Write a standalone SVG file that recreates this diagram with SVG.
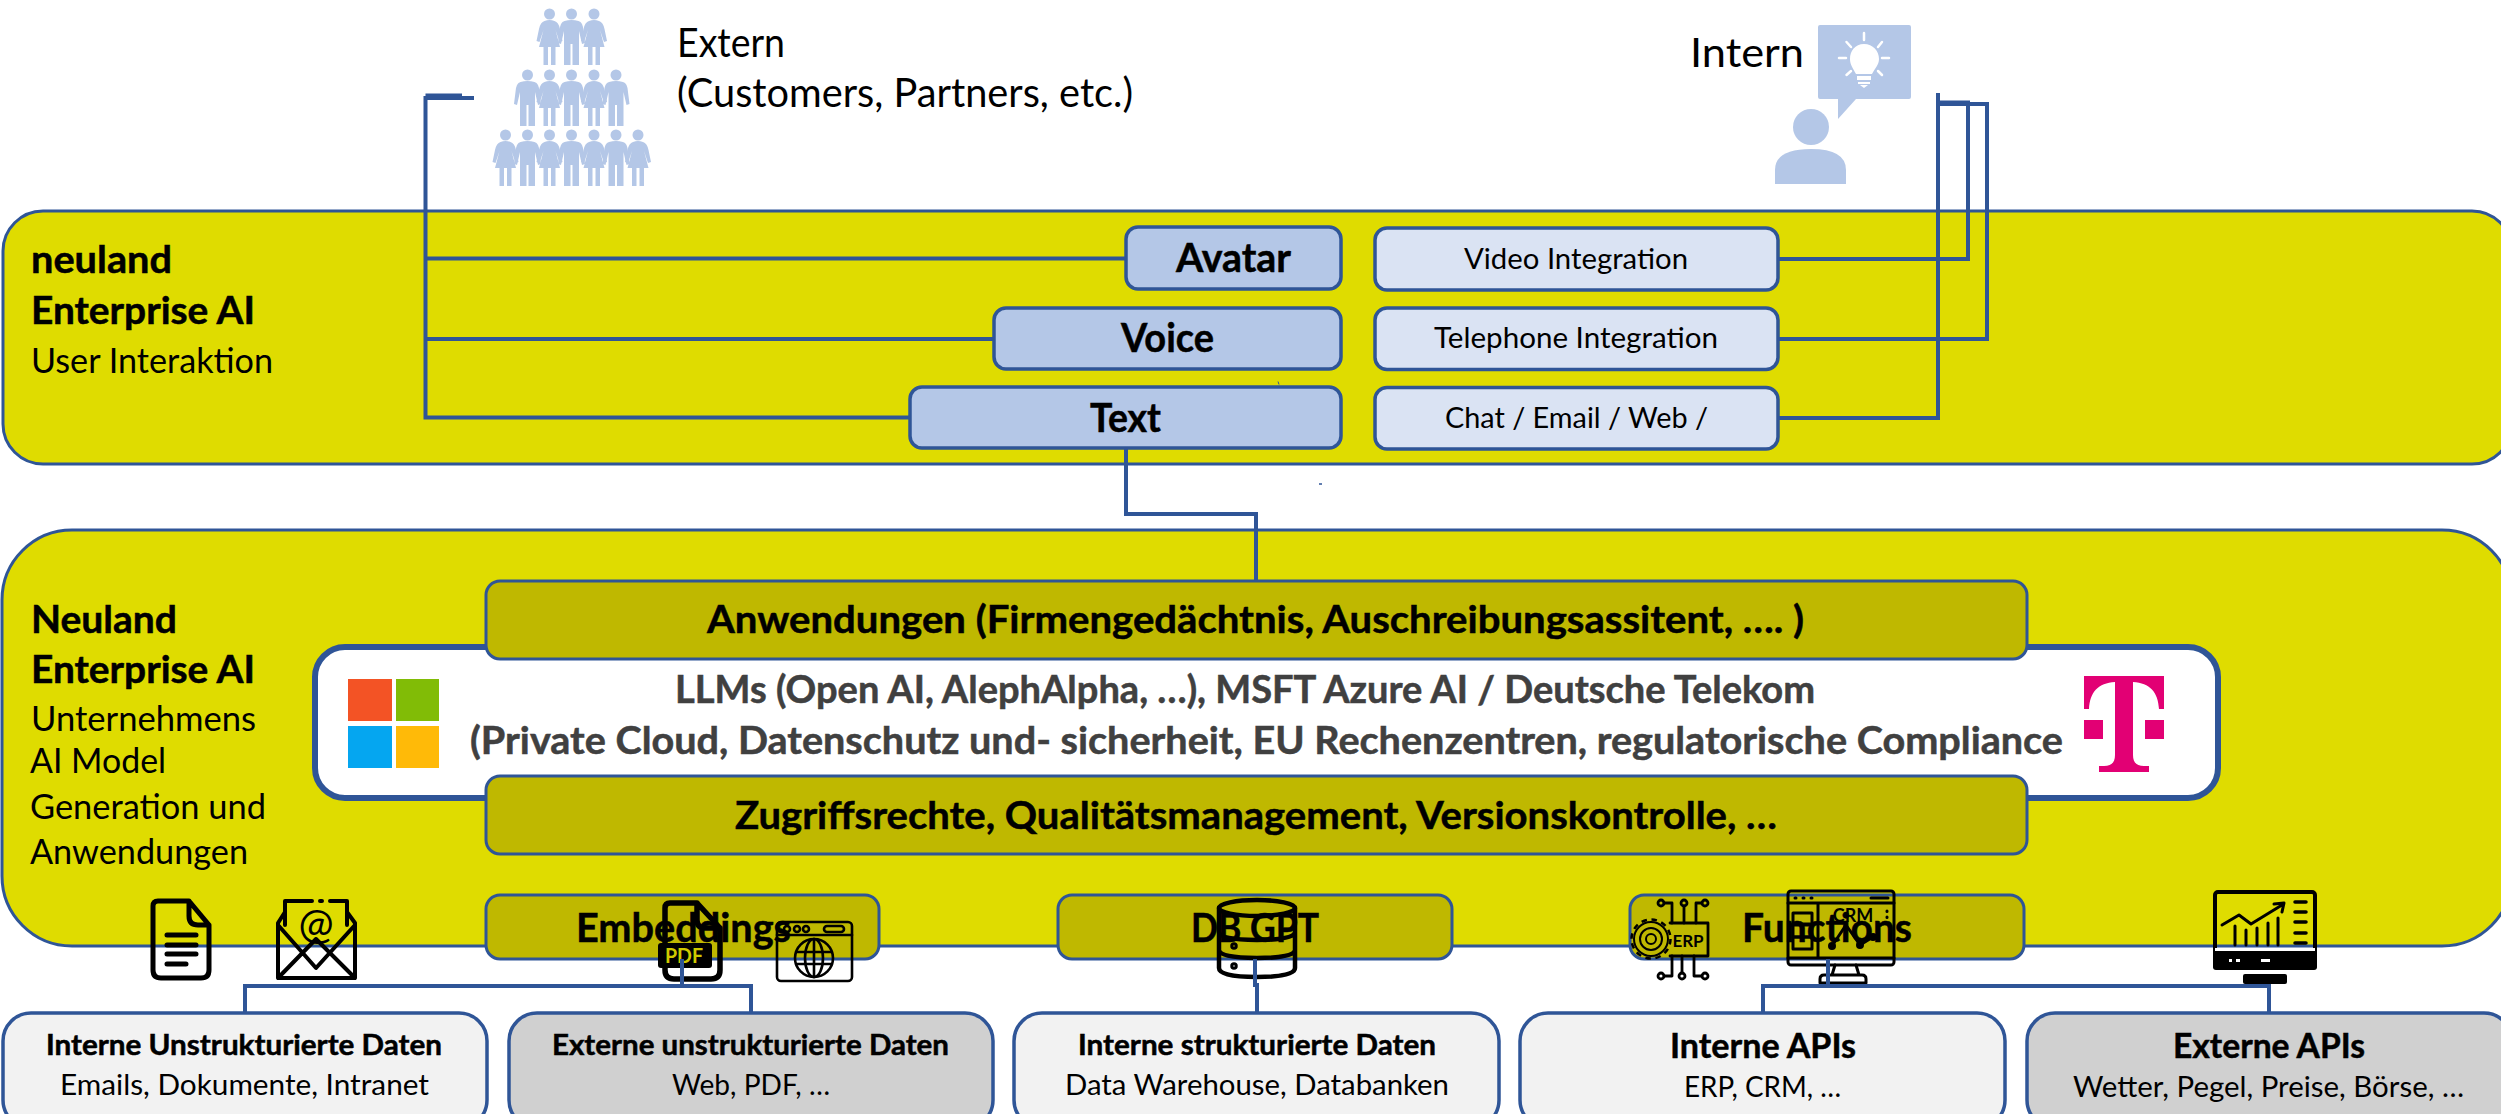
<svg xmlns="http://www.w3.org/2000/svg" xmlns:xlink="http://www.w3.org/1999/xlink" width="2501" height="1114" viewBox="0 0 2501 1114">
<style>
text{font-family:"Lato","Open Sans","Liberation Sans",sans-serif;fill:#000}
.b{font-weight:700;stroke:#000;stroke-width:.5px}
.s36{font-size:40px}.s33{font-size:38px}.s32{font-size:34px}.s27{font-size:29px}.s28{font-size:28px}.s40{font-size:41px}.s30{font-size:35px}
.b.grey{fill:#404040;stroke:#404040}
.band{fill:#DFDC00;stroke:#2F5597;stroke-width:3}
.inner{fill:#BFB800;stroke:#2F5597;stroke-width:3}
.btnA{fill:#B4C7E7;stroke:#2F5597;stroke-width:3.5}
.btnB{fill:#DAE3F3;stroke:#2F5597;stroke-width:3.5}
.dataL{fill:#F2F2F2;stroke:#2F5597;stroke-width:3.5}
.dataD{fill:#D0D0D0;stroke:#2F5597;stroke-width:3.5}
.ppl{fill:#B4C7E7}
.ic{fill:none;stroke:#000;stroke-width:4.5;stroke-linejoin:round;stroke-linecap:round}
.th{stroke-width:2.6}
.ray{fill:none;stroke:#fff;stroke-width:2.5;stroke-linecap:round}
.con{fill:none;stroke:#2F5597;stroke-width:4}
</style>
<defs>
<path id="man" class="ppl" d="M-7 7Q0 5 7 7Q11.500 8 12 17L13.500 29L10.500 30L7.500 17V51H1V30H-1V51H-7.500V17L-10.500 30L-13.500 29L-12 17Q-11.500 8 -7 7Z"/>
<path id="woman" class="ppl" d="M-5 7Q0 5 5 7Q9 8 10.500 15L13 27L10 28L6 16L10.500 33H6V51H1.500V33H-1.500V51H-6V33H-10.500L-6 16L-10 28L-13 27L-10.500 15Q-9 8 -5 7Z"/>
<g id="f"><circle class="ppl" cx="0" cy="0" r="5.500"/><use xlink:href="#woman" href="#woman"/></g>
<g id="m"><circle class="ppl" cx="0" cy="0" r="5.500"/><use xlink:href="#man" href="#man"/></g>
</defs>

<rect width="2501" height="1114" fill="#fff"/>

<g id="band-user-interaction">
<rect class="band" x="3" y="211" width="2509" height="253" rx="40"/>
<text class="b s33" x="31" y="273" textLength="141" lengthAdjust="spacingAndGlyphs">neuland</text>
<text class="b s33" x="31" y="324" textLength="224" lengthAdjust="spacingAndGlyphs">Enterprise AI</text>
<text class="s32" x="31" y="373" textLength="242" lengthAdjust="spacingAndGlyphs">User Interaktion</text>
</g>

<g id="band-enterprise-ai">
<rect class="band" x="2" y="530" width="2510" height="416" rx="70"/>
<text class="b s33" x="31" y="633" textLength="146" lengthAdjust="spacingAndGlyphs">Neuland</text>
<text class="b s33" x="31" y="683" textLength="224" lengthAdjust="spacingAndGlyphs">Enterprise AI</text>
<text class="s32" x="31" y="731" textLength="225" lengthAdjust="spacingAndGlyphs">Unternehmens</text>
<text class="s32" x="30" y="773" textLength="136" lengthAdjust="spacingAndGlyphs">AI Model</text>
<text class="s32" x="30" y="819" textLength="236" lengthAdjust="spacingAndGlyphs">Generation und</text>
<text class="s32" x="30" y="864" textLength="218" lengthAdjust="spacingAndGlyphs">Anwendungen</text>
</g>

<g id="extern-people">
<use xlink:href="#f" href="#f" x="549.500" y="14"/><use xlink:href="#m" href="#m" x="571.500" y="14"/><use xlink:href="#f" href="#f" x="594" y="14"/>
<use xlink:href="#m" href="#m" x="527.500" y="75"/><use xlink:href="#f" href="#f" x="549.500" y="75"/><use xlink:href="#m" href="#m" x="571.500" y="75"/><use xlink:href="#f" href="#f" x="594" y="75"/><use xlink:href="#m" href="#m" x="616" y="75"/>
<use xlink:href="#f" href="#f" x="505.500" y="135"/><use xlink:href="#m" href="#m" x="527.500" y="135"/><use xlink:href="#f" href="#f" x="549.500" y="135"/><use xlink:href="#m" href="#m" x="571.500" y="135"/><use xlink:href="#f" href="#f" x="594" y="135"/><use xlink:href="#m" href="#m" x="616" y="135"/><use xlink:href="#f" href="#f" x="638" y="135"/>
<text class="s36" x="677" y="57" textLength="108" lengthAdjust="spacingAndGlyphs">Extern</text>
<text class="s36" x="677" y="107" textLength="456" lengthAdjust="spacingAndGlyphs">(Customers, Partners, etc.)</text>
</g>

<g id="intern-person">
<text class="s36" x="1690" y="67" textLength="114" lengthAdjust="spacingAndGlyphs">Intern</text>
<path class="ppl" d="M1820 25H1909Q1911 25 1911 27V97Q1911 99 1909 99H1856L1838 119V99H1820Q1818 99 1818 97V27Q1818 25 1820 25Z"/>
<path fill="#fff" d="M1864 44C1873 44 1879 51 1879 59C1879 65 1875 68 1872 74H1856C1853 68 1850 65 1850 59C1850 51 1855 44 1864 44Z"/>
<path fill="#fff" d="M1857 76H1871V80H1857ZM1858 82H1870V84H1858ZM1860 85H1868L1864 88Z"/>
<path class="ray" d="M1864 33V40M1846.500 42L1851 47M1882 42L1878 47M1839 58H1846M1882 58H1889M1851 71L1846.500 75M1878 71L1882 75"/>
<ellipse class="ppl" cx="1811" cy="127" rx="18" ry="18"/>
<path class="ppl" d="M1775 184V170Q1775 149 1811 149Q1846 149 1846 170V184Z"/>
</g>

<g id="avatar"><rect class="btnA" x="1126" y="227" width="215" height="62" rx="12"/><text class="b s40" x="1176" y="272" textLength="115" lengthAdjust="spacingAndGlyphs">Avatar</text></g>
<g id="voice"><rect class="btnA" x="994" y="308" width="347" height="61" rx="12"/><text class="b s40" x="1121" y="352" textLength="93" lengthAdjust="spacingAndGlyphs">Voice</text></g>
<g id="text"><rect class="btnA" x="910" y="387" width="431" height="61" rx="12"/><text class="b s40" x="1090" y="432" textLength="71" lengthAdjust="spacingAndGlyphs">Text</text></g>
<g id="video-integration"><rect class="btnB" x="1375" y="228" width="403" height="62" rx="12"/><text class="s27" x="1464" y="269" textLength="224" lengthAdjust="spacingAndGlyphs">Video Integration</text></g>
<g id="telephone-integration"><rect class="btnB" x="1375" y="308" width="403" height="61.500" rx="12"/><text class="s27" x="1434" y="348" textLength="284" lengthAdjust="spacingAndGlyphs">Telephone Integration</text></g>
<g id="chat-email-web"><rect class="btnB" x="1375" y="387.500" width="403" height="61.500" rx="12"/><text class="s27" x="1445" y="428" textLength="263" lengthAdjust="spacingAndGlyphs">Chat / Email / Web /</text></g>

<g id="llms">
<rect x="315" y="647" width="1903" height="151" rx="30" fill="#fff" stroke="#2F5597" stroke-width="6"/>
<rect x="348" y="679" width="44" height="42" fill="#F35325"/><rect x="396" y="679" width="43" height="42" fill="#81BC06"/>
<rect x="348" y="726" width="44" height="42" fill="#05A6F0"/><rect x="396" y="726" width="43" height="42" fill="#FFBA08"/>
<path fill="#E20074" d="M2084 676H2164V709H2159C2158 692 2150 683 2133 682V755C2133 763 2137 766 2144 766H2149V772H2099V766H2104C2111 766 2115 763 2115 755V682C2098 683 2090 692 2089 709H2084Z"/>
<rect x="2084" y="720" width="19" height="19" fill="#E20074"/><rect x="2145" y="720" width="19" height="19" fill="#E20074"/>
<text class="b s33 grey" x="675" y="703" textLength="1140" lengthAdjust="spacingAndGlyphs">LLMs (Open AI, AlephAlpha, …), MSFT Azure AI / Deutsche Telekom</text>
<text class="b s33 grey" x="470" y="754" textLength="1593" lengthAdjust="spacingAndGlyphs">(Private Cloud, Datenschutz und- sicherheit, EU Rechenzentren, regulatorische Compliance</text>
</g>
<g id="anwendungen"><rect class="inner" x="486" y="581" width="1541" height="78" rx="14"/><text class="b s33" x="707" y="633" textLength="1097" lengthAdjust="spacingAndGlyphs">Anwendungen (Firmengedächtnis, Auschreibungsassitent, …. )</text></g>
<g id="zugriffsrechte"><rect class="inner" x="486" y="776" width="1541" height="78" rx="14"/><text class="b s33" x="735" y="829" textLength="1042" lengthAdjust="spacingAndGlyphs">Zugriffsrechte, Qualitätsmanagement, Versionskontrolle, …</text></g>
<g id="embeddings"><rect class="inner" x="486" y="895" width="393" height="64" rx="14"/><text class="b s40" x="576" y="942" textLength="215" lengthAdjust="spacingAndGlyphs">Embeddings</text></g>
<g id="db-gpt"><rect class="inner" x="1058" y="895" width="394" height="64" rx="14"/><text class="b s40" x="1191" y="942" textLength="128" lengthAdjust="spacingAndGlyphs">DB GPT</text></g>
<g id="functions"><rect class="inner" x="1630" y="895" width="394" height="64" rx="14"/><text class="b s40" x="1742" y="942" textLength="170" lengthAdjust="spacingAndGlyphs">Functions</text></g>

<g id="interne-unstrukturierte"><rect class="dataL" x="3" y="1013" width="484" height="115" rx="28"/>
<text class="b s28" x="46" y="1055" textLength="396" lengthAdjust="spacingAndGlyphs">Interne Unstrukturierte Daten</text>
<text class="s28" x="60" y="1095" textLength="369" lengthAdjust="spacingAndGlyphs">Emails, Dokumente, Intranet</text></g>
<g id="externe-unstrukturierte"><rect class="dataD" x="509" y="1013" width="484" height="115" rx="28"/>
<text class="b s28" x="552" y="1055" textLength="397" lengthAdjust="spacingAndGlyphs">Externe unstrukturierte Daten</text>
<text class="s28" x="672" y="1095" textLength="158" lengthAdjust="spacingAndGlyphs">Web, PDF, …</text></g>
<g id="interne-strukturierte"><rect class="dataL" x="1014" y="1013" width="485" height="115" rx="28"/>
<text class="b s28" x="1078" y="1055" textLength="358" lengthAdjust="spacingAndGlyphs">Interne strukturierte Daten</text>
<text class="s28" x="1065" y="1095" textLength="384" lengthAdjust="spacingAndGlyphs">Data Warehouse, Databanken</text></g>
<g id="interne-apis"><rect class="dataL" x="1520" y="1013" width="485" height="115" rx="28"/>
<text class="b s30" x="1670" y="1058" textLength="186" lengthAdjust="spacingAndGlyphs">Interne APIs</text>
<text class="s28" x="1684" y="1097" textLength="157" lengthAdjust="spacingAndGlyphs">ERP, CRM, …</text></g>
<g id="externe-apis"><rect class="dataD" x="2027" y="1013" width="485" height="115" rx="28"/>
<text class="b s30" x="2173" y="1058" textLength="192" lengthAdjust="spacingAndGlyphs">Externe APIs</text>
<text class="s28" x="2073" y="1097" textLength="391" lengthAdjust="spacingAndGlyphs">Wetter, Pegel, Preise, Börse, …</text></g>

<g id="icon-document">
<path class="ic" style="stroke-width:5" d="M158 901H189L209 925V970Q209 978 201 978H161Q153 978 153 970V906Q153 901 158 901ZM189 901V916Q189 925 198 925H209"/>
<path class="ic" style="stroke-width:5" d="M167 935H196M167 945H196M167 954H196M167 964H186"/>
</g>
<g id="icon-email">
<path class="ic" style="stroke-width:4" d="M285 925V901H312M320 901H322M330 901H347V925M285 912L278 923V978H355V923L347 912M278 925L316 968L355 925M278 978L316 939M355 978L316 939"/>
<text x="316" y="939" text-anchor="middle" style="font-size:42px">@</text>
</g>
<g id="icon-pdf">
<path class="ic" style="stroke-width:5.500" d="M670 903H697L720 928V970Q720 979 711 979H674Q665 979 665 970V908Q665 903 670 903ZM697 903V920Q697 928 705 928H720"/>
<rect x="658" y="943" width="54" height="25" rx="3" fill="#000"/>
<text x="684" y="963" text-anchor="middle" textLength="38" lengthAdjust="spacingAndGlyphs" style="font-size:20px;font-weight:700;fill:#CFC900">PDF</text>
</g>
<g id="icon-web" class="ic th">
<rect x="777" y="922" width="75" height="59" rx="4"/>
<path d="M777 935H852"/>
<circle cx="787" cy="929" r="3"/><circle cx="797" cy="929" r="3"/><circle cx="806" cy="929" r="3"/>
<rect x="824" y="926" width="20" height="6" rx="3"/>
<circle cx="814" cy="958" r="19"/><ellipse cx="814" cy="958" rx="9" ry="19"/>
<path d="M814 939V977M796 952H832M796 964H832"/>
</g>
<g id="icon-database" class="ic">
<ellipse cx="1257" cy="908" rx="38" ry="8"/>
<path d="M1219 908V968Q1219 977 1257 977Q1295 977 1295 968V908M1219 932Q1220 940 1257 940Q1294 940 1295 932M1219 950Q1220 958 1257 958Q1294 958 1295 950"/>
<circle cx="1234" cy="946" r="1.500"/><circle cx="1234" cy="966" r="1.500"/>
</g>
<g id="icon-erp">
<g class="ic" style="stroke-width:2.800">
<path d="M1670 923H1708V956H1670"/>
<circle cx="1661" cy="903" r="3"/><circle cx="1684" cy="903" r="3"/><circle cx="1705" cy="903" r="3"/>
<circle cx="1661" cy="976" r="3"/><circle cx="1682" cy="976" r="3"/><circle cx="1705" cy="976" r="3"/>
<path d="M1664 903H1672V923M1684 906V923M1702 903H1696V923M1672 956V976H1664M1682 956V973M1694 956V976H1702"/>
<circle cx="1651" cy="939" r="19.500" style="stroke-width:2.500;stroke-linecap:butt;stroke-dasharray:5.500 4.700"/><circle cx="1651" cy="939" r="17" style="stroke-width:2"/><circle cx="1651" cy="939" r="11" style="stroke-width:2"/><circle cx="1651" cy="939" r="5" style="stroke-width:2"/>
</g>
<text x="1688" y="947" text-anchor="middle" style="font-size:17px;font-weight:700">ERP</text>
</g>
<g id="icon-crm">
<g class="ic" style="stroke-width:3">
<rect x="1788" y="891" width="106" height="74" rx="3"/>
<path d="M1788 903H1894M1788 958H1894M1818 903V958"/>
<path d="M1795 898h1M1803 898h1M1811 898h1M1871 898H1888" />
<rect x="1793" y="913" width="19" height="11"/><rect x="1793" y="925" width="19" height="12"/><rect x="1793" y="937" width="19" height="12"/>
<path d="M1887 911v.5M1887 917v.5"/>
<circle cx="1832" cy="946" r="2.500"/><circle cx="1860" cy="945" r="2.500"/><circle cx="1873" cy="937" r="2.500"/>
<path d="M1832 946L1846 925L1860 945L1873 937"/>
<path d="M1835 965L1832 975M1856 965L1859 975M1820 983V979Q1820 975 1824 975H1862Q1866 975 1866 979V983H1820"/>
</g>
<text x="1853" y="922" text-anchor="middle" style="font-size:18px;font-weight:700">CRM</text>
</g>
<g id="icon-chart">
<rect x="2215" y="892" width="100" height="76" rx="3" fill="none" stroke="#000" stroke-width="4"/>
<rect x="2213" y="951" width="104" height="19" rx="3" fill="#000"/>
<rect x="2215" y="948" width="100" height="3" fill="#fff"/>
<rect x="2229" y="959" width="3" height="3" fill="#fff"/><rect x="2236" y="959" width="4" height="3" fill="#fff"/><rect x="2261" y="959" width="9" height="3" fill="#fff"/>
<rect x="2243" y="974" width="44" height="10" rx="2" fill="#000"/>
<path class="ic" style="stroke-width:3" d="M2222 925L2239 915L2251 924L2282 905M2274 904L2284 903L2282 912"/>
<path class="ic" style="stroke-width:3" d="M2235 926V945M2246 930V945M2257 928V945M2268 923V945M2278 918V945"/>
<path class="ic" style="stroke-width:3.500" d="M2295 902H2306M2295 912H2306M2295 922H2306M2295 933H2306M2295 943H2306"/>
</g>

<g id="connectors" class="con">
<path d="M425.500 96H462" style="stroke-width:5"/>
<path d="M474 98H425.500V417.500H910"/>
<path d="M425.500 258.500H1126M425.500 339H994"/>
<path d="M1778 418H1938V93"/>
<path d="M1778 259H1968V102.500H1938"/>
<path d="M1778 339H1987V104H1938"/>
<path d="M1126 448V514H1256V581"/>
<path d="M245 1013V986H751V1013M682 959V986"/>
<path d="M1255 959V985H1257V1013"/>
<path d="M1763 1013V986H2269V1013M1828 959V986"/>
<path d="M1278 381.500L1279 384.500" style="stroke-width:1"/>
<path d="M1319 484H1322" style="stroke-width:1.500"/>
</g>
</svg>
